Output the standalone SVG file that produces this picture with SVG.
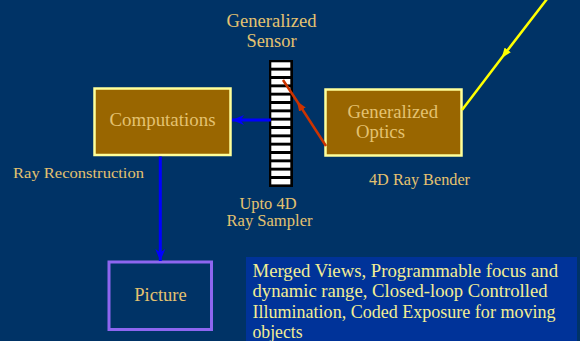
<svg xmlns="http://www.w3.org/2000/svg" width="580" height="341" viewBox="0 0 580 341">
<defs>
<style>
.lbl{font-family:"Liberation Serif","Times New Roman",serif;fill:#E4C270;}
.box{fill:#996600;stroke:#FFFF99;stroke-width:2.5;}
.cell{fill:#FFFFFF;}
</style>
<marker id="blueHead" markerUnits="userSpaceOnUse" markerWidth="14" markerHeight="12" refX="12" refY="5" orient="auto" viewBox="0 0 14 10">
<path d="M0,0 L12,5 L0,10 L3.5,5 Z" fill="#0000FF"/>
</marker>
<marker id="redHead" markerUnits="userSpaceOnUse" markerWidth="10" markerHeight="8" refX="4" refY="3.5" orient="auto" viewBox="0 0 9 7">
<path d="M0,0 L9,3.5 L0,7 Z" fill="#CC3300"/>
</marker>
<marker id="yelHead" markerUnits="userSpaceOnUse" markerWidth="10" markerHeight="8" refX="4" refY="3.5" orient="auto" viewBox="0 0 9 7">
<path d="M0,0 L9,3.5 L0,7 Z" fill="#FFFF00"/>
</marker>
</defs>
<rect x="0" y="0" width="580" height="341" fill="#003366"/>

<g id="sensor">
<rect x="269" y="60" width="24" height="127" fill="#000000"/>
<rect class="cell" x="271.3" y="62.3" width="19" height="5.4"/>
<rect class="cell" x="271.3" y="70.6" width="19" height="5.4"/>
<rect class="cell" x="271.3" y="79.0" width="19" height="5.4"/>
<rect class="cell" x="271.3" y="87.3" width="19" height="5.4"/>
<rect class="cell" x="271.3" y="95.6" width="19" height="5.4"/>
<rect class="cell" x="271.3" y="104.0" width="19" height="5.4"/>
<rect class="cell" x="271.3" y="112.3" width="19" height="5.4"/>
<rect class="cell" x="271.3" y="120.6" width="19" height="5.4"/>
<rect class="cell" x="271.3" y="129.0" width="19" height="5.4"/>
<rect class="cell" x="271.3" y="137.3" width="19" height="5.4"/>
<rect class="cell" x="271.3" y="145.6" width="19" height="5.4"/>
<rect class="cell" x="271.3" y="154.0" width="19" height="5.4"/>
<rect class="cell" x="271.3" y="162.3" width="19" height="5.4"/>
<rect class="cell" x="271.3" y="170.6" width="19" height="5.4"/>
<rect class="cell" x="271.3" y="179.0" width="19" height="5.4"/>
<text class="lbl" x="271.5" y="27" font-size="18" text-anchor="middle" textLength="90" lengthAdjust="spacingAndGlyphs">Generalized</text>
<text class="lbl" x="271.5" y="47" font-size="18" text-anchor="middle" textLength="50" lengthAdjust="spacingAndGlyphs">Sensor</text>
<text class="lbl" x="268" y="209" font-size="16" text-anchor="middle" textLength="57" lengthAdjust="spacingAndGlyphs">Upto 4D</text>
<text class="lbl" x="269.5" y="226" font-size="16" text-anchor="middle" textLength="86" lengthAdjust="spacingAndGlyphs">Ray Sampler</text>
</g>

<g id="computations">
<rect class="box" x="94.5" y="88.5" width="136" height="66.5"/>
<text class="lbl" x="162.5" y="126" font-size="18" text-anchor="middle" textLength="106" lengthAdjust="spacingAndGlyphs">Computations</text>
<text class="lbl" x="13" y="178" font-size="15.3" textLength="131" lengthAdjust="spacingAndGlyphs">Ray Reconstruction</text>
</g>

<g id="optics">
<rect class="box" x="325.5" y="89.5" width="136" height="66"/>
<text class="lbl" x="347.5" y="117.5" font-size="18.5" textLength="90.5" lengthAdjust="spacingAndGlyphs">Generalized</text>
<text class="lbl" x="356" y="138" font-size="18.5" textLength="49" lengthAdjust="spacingAndGlyphs">Optics</text>
<text class="lbl" x="369" y="185" font-size="16.2" textLength="101" lengthAdjust="spacingAndGlyphs">4D Ray Bender</text>
</g>

<g id="picture">
<rect x="109" y="262" width="102.5" height="67.5" fill="none" stroke="#8E66F0" stroke-width="3"/>
<text class="lbl" x="160.5" y="300.5" font-size="18.5" text-anchor="middle" textLength="52.5" lengthAdjust="spacingAndGlyphs">Picture</text>
</g>

<g id="applications">
<rect x="246" y="257" width="331" height="84" fill="#003399"/>
<g font-family="'Liberation Serif','Times New Roman',serif" font-size="18.6" fill="#F2EE94">
<text x="252.5" y="276.5" textLength="305.5" lengthAdjust="spacingAndGlyphs">Merged Views, Programmable focus and</text>
<text x="252.5" y="297" textLength="295" lengthAdjust="spacingAndGlyphs">dynamic range, Closed-loop Controlled</text>
<text x="252.5" y="317.5" textLength="303" lengthAdjust="spacingAndGlyphs">Illumination, Coded Exposure for moving</text>
<text x="252.5" y="337.5" textLength="50" lengthAdjust="spacingAndGlyphs">objects</text>
</g>
</g>

<g id="connectors">
<line x1="271" y1="120" x2="232" y2="120" stroke="#0000FF" stroke-width="3" marker-end="url(#blueHead)"/>
<line x1="160.3" y1="156.5" x2="160.3" y2="261" stroke="#0000FF" stroke-width="3" marker-end="url(#blueHead)"/>
<polyline points="326,146 300,105.8 283,80" fill="none" stroke="#CC3300" stroke-width="2.5" marker-mid="url(#redHead)"/>
<polyline points="547,-1 505,53.5 462,110" fill="none" stroke="#FFFF00" stroke-width="2.5" marker-mid="url(#yelHead)"/>
</g>
</svg>
